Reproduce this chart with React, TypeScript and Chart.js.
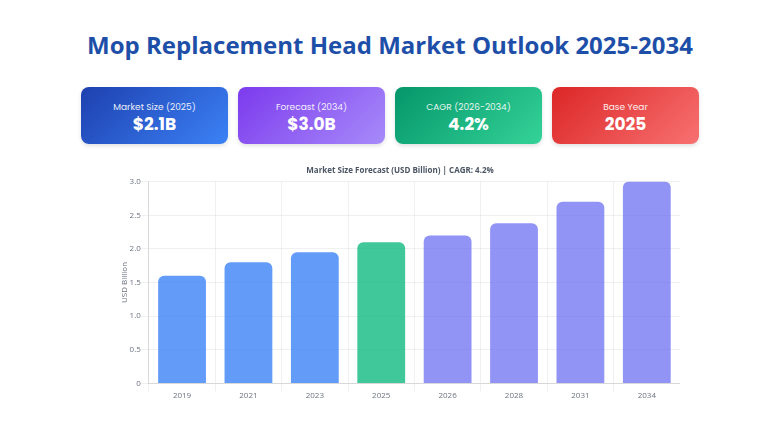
import React, { useEffect, useRef } from "react";
import { Chart, registerables } from "chart.js";

Chart.register(...registerables);

const years = ["2019", "2021", "2023", "2025", "2026", "2028", "2031", "2034"];
const marketSize = [1.6, 1.8, 1.95, 2.1, 2.2, 2.38, 2.7, 3.0];
const barColors = [
  "rgba(59,130,246,0.8)",
  "rgba(59,130,246,0.8)",
  "rgba(59,130,246,0.8)",
  "rgba(16,185,129,0.8)",
  "rgba(99,102,241,0.7)",
  "rgba(99,102,241,0.7)",
  "rgba(99,102,241,0.7)",
  "rgba(99,102,241,0.7)",
];

const cardLabels = ["Market Size (2025)", "Forecast (2034)", "CAGR (2026-2034)", "Base Year"];
const cardValues = ["$2.1B", "$3.0B", "4.2%", "2025"];
const cardGradients = [
  "linear-gradient(135deg, #1e40af, #3b82f6)",
  "linear-gradient(135deg, #7c3aed, #a78bfa)",
  "linear-gradient(135deg, #059669, #34d399)",
  "linear-gradient(135deg, #dc2626, #f87171)",
];

const cardFont = "Poppins, Inter, 'Noto Sans', sans-serif";

export default function App() {
  const canvasRef = useRef<HTMLCanvasElement | null>(null);

  useEffect(() => {
    if (!canvasRef.current) return;
    const chart = new Chart(canvasRef.current, {
      type: "bar",
      data: {
        labels: years,
        datasets: [
          {
            data: marketSize,
            backgroundColor: barColors,
            borderRadius: 6,
            borderSkipped: "bottom",
          },
        ],
      },
      options: {
        animation: false,
        responsive: true,
        maintainAspectRatio: false,
        layout: { padding: { left: 20, right: 0, top: 0, bottom: 0 } },
        plugins: {
          legend: { display: false },
          tooltip: { enabled: false },
          title: {
            display: true,
            text: "Market Size Forecast (USD Billion) | CAGR: 4.2%",
            color: "#4b5563",
            font: { family: "'Open Sans', sans-serif", size: 8, weight: "bold" },
            padding: { top: 0, bottom: 6 },
          },
        },
        scales: {
          x: {
            grid: { color: "rgba(0,0,0,0.06)" },
            ticks: { padding: 0, color: "#6b7280", font: { family: "'Open Sans', sans-serif", size: 8 } },
          },
          y: {
            min: 0,
            max: 3.0,
            grid: { color: "rgba(0,0,0,0.06)" },
            ticks: {
              stepSize: 0.5,
              padding: 0,
              color: "#6b7280",
              font: { family: "'Open Sans', sans-serif", size: 8 },
              callback: (v: any) => (v === 0 ? "0" : Number(v).toFixed(1)),
            },
            title: {
              display: true,
              text: "USD Billion",
              color: "#6b7280",
              padding: { top: 0, bottom: 0 },
              font: { family: "'Open Sans', sans-serif", size: 8 },
            },
          },
        },
      },
    });
    return () => chart.destroy();
  }, []);

  return (
    <div
      style={{
        position: "absolute",
        left: 0,
        top: 0,
        width: 768,
        height: 432,
        background: "#ffffff",
        overflow: "hidden",
      }}
    >
      <div
        style={{
          position: "absolute",
          left: 6,
          top: 27,
          width: 768,
          textAlign: "center",
          fontFamily: "'Open Sans', sans-serif",
          fontWeight: 700,
          fontSize: 24,
          color: "#1e4fa8",
          lineHeight: "36px",
        }}
      >
        Mop Replacement Head Market Outlook 2025-2034
      </div>
      {cardLabels.map((label, i) => (
        <div
          key={label}
          style={{
            position: "absolute",
            left: 81 + i * 157,
            top: 87,
            width: 147,
            height: 57,
            borderRadius: 8,
            background: cardGradients[i],
            boxShadow: "0 2px 4px rgba(0,0,0,0.12)",
            color: "#ffffff",
            textAlign: "center",
            fontFamily: cardFont,
          }}
        >
          <div style={{ marginTop: 14, fontSize: 9, opacity: 0.9, lineHeight: "12px" }}>{label}</div>
          <div style={{ fontSize: 17, fontWeight: 700, lineHeight: "23px" }}>{cardValues[i]}</div>
        </div>
      ))}
      <div style={{ position: "absolute", left: 100, top: 166, width: 580, height: 235 }}>
        <canvas ref={canvasRef} />
      </div>
    </div>
  );
}
